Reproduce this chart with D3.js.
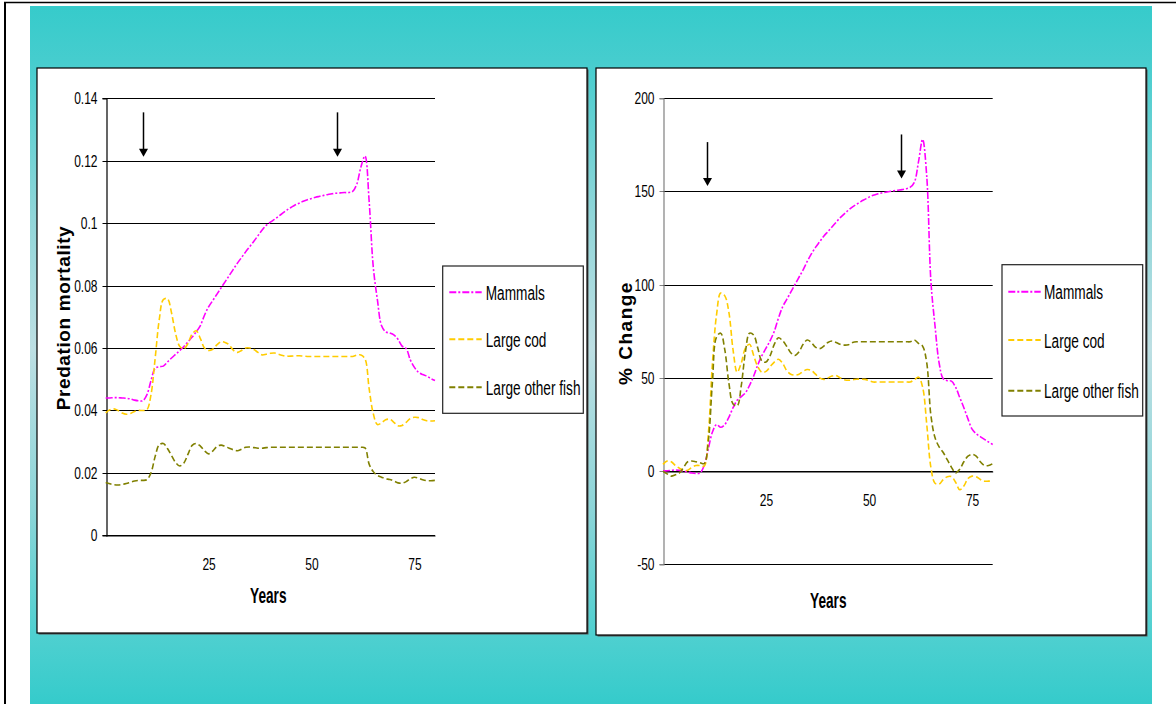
<!DOCTYPE html>
<html><head><meta charset="utf-8">
<script src="https://cdn.jsdelivr.net/npm/d3@7"></script>
<style>body{margin:0;background:#fff;} svg{display:block;}</style>
</head><body><svg id="c" width="1176" height="704"></svg>
<script>
// ---------- DATA ----------
const years = d3.range(0, 81);
const seriesNames = ["Mammals", "Large cod", "Large other fish"];
const yTicks1 = [0, 0.02, 0.04, 0.06, 0.08, 0.1, 0.12, 0.14];
const yTickLabels1 = ["0", "0.02", "0.04", "0.06", "0.08", "0.1", "0.12", "0.14"];
const yTicks2 = [-50, 0, 50, 100, 150, 200];
const yTickLabels2 = ["-50", "0", "50", "100", "150", "200"];
const xTicks = [25, 50, 75];
const xTickLabels = ["25", "50", "75"];

// Predation mortality (left chart)
const mammalsMort = [0.0440,0.0440,0.0441,0.0441,0.0440,0.0439,0.0437,0.0433,0.0431,0.0431,
 0.0450,0.0495,0.0535,0.0540,0.0542,0.0555,0.0568,0.0580,0.0592,0.0605,
 0.0620,0.0635,0.0652,0.0672,0.0705,0.0732,0.0752,0.0772,0.0792,0.0812,
 0.0832,0.0852,0.0872,0.0890,0.0908,0.0925,0.0942,0.0960,0.0978,0.0993,
 0.1003,0.1012,0.1022,0.1032,0.1042,0.1050,0.1058,0.1064,0.1070,0.1075,
 0.1079,0.1083,0.1086,0.1089,0.1092,0.1094,0.1096,0.1097,0.1098,0.1098,
 0.1102,0.1125,0.1180,0.1215,0.1070,0.0860,0.0755,0.0672,0.0652,0.0648,
 0.0642,0.0628,0.0606,0.0598,0.0562,0.0538,0.0522,0.0515,0.0510,0.0502,0.0496];
const codMort = [0.0392,0.0402,0.0405,0.0400,0.0392,0.0388,0.0390,0.0397,0.0400,0.0400,
 0.0402,0.0450,0.0565,0.0690,0.0755,0.0758,0.0712,0.0645,0.0605,0.0598,
 0.0615,0.0645,0.0655,0.0630,0.0600,0.0592,0.0596,0.0610,0.0620,0.0618,
 0.0610,0.0593,0.0586,0.0592,0.0600,0.0600,0.0595,0.0586,0.0578,0.0580,
 0.0583,0.0584,0.0580,0.0576,0.0574,0.0574,0.0575,0.0575,0.0574,0.0573,
 0.0573,0.0573,0.0573,0.0573,0.0573,0.0573,0.0573,0.0573,0.0573,0.0573,
 0.0573,0.0577,0.0578,0.0565,0.0470,0.0390,0.0355,0.0360,0.0370,0.0372,
 0.0362,0.0351,0.0352,0.0362,0.0374,0.0378,0.0377,0.0371,0.0367,0.0366,0.0367];
const otherFishMort = [0.0169,0.0165,0.0162,0.0161,0.0163,0.0166,0.0170,0.0174,0.0176,0.0176,
 0.0178,0.0200,0.0252,0.0290,0.0294,0.0278,0.0255,0.0233,0.0222,0.0232,
 0.0260,0.0288,0.0294,0.0286,0.0271,0.0261,0.0270,0.0284,0.0289,0.0285,
 0.0279,0.0274,0.0271,0.0276,0.0282,0.0283,0.0281,0.0279,0.0279,0.0281,
 0.0282,0.0282,0.0282,0.0282,0.0282,0.0282,0.0282,0.0282,0.0282,0.0282,
 0.0282,0.0282,0.0282,0.0282,0.0282,0.0282,0.0282,0.0282,0.0282,0.0282,
 0.0282,0.0282,0.0282,0.0280,0.0228,0.0204,0.0192,0.0186,0.0181,0.0179,
 0.0174,0.0168,0.0167,0.0172,0.0181,0.0186,0.0183,0.0178,0.0175,0.0175,0.0176];

// % Change (right chart)
const mammalsChange = [0,0.2,0.4,0.6,0.4,0,-0.5,-1,-1.2,-1,
 3,12,21,25,23.5,25,29,34,38,40,
 42,46,51,57,62,66,70,75,82,88,
 92,96,100,104,108,112.5,116.5,120,123,126,
 128.5,131,133.5,136,138,140,141.8,143.2,144.6,145.8,
 147,148,148.7,149.2,149.6,150,150.4,150.7,151,151.5,
 152.3,155,166,178,158,102,78,58,49.5,48.5,
 48.3,45,39.5,34,28,22.5,20,18.5,17,15.6,14.3];
const codChange = [3.6,5.4,5,3,1.5,0.4,0.5,2,3,3,
 2.7,20,58,84,95.5,94,85,65,53,58,
 66,68,62,56,53,53.5,56,58.5,60,58,
 54,52,51.5,52,53.5,54.5,54,52,50,49.2,
 50,51,51.3,50,49,48.7,49,49.3,49.3,49.2,
 48.5,47.8,47.8,47.8,47.8,47.8,47.8,47.8,47.8,47.8,
 47.8,49,50.4,45,25,2,-6.5,-7,-4.5,-3,
 -3,-6,-10,-8,-4,-2.7,-3,-4.5,-5.4,-5.4,-5.4];
const otherFishChange = [0,-1.5,-2.7,-2,-1,2,5,5.4,5,4.5,
 4,16,48,72,74,65,47,36,35,46,
 64,74,73,66,59,58.5,62,68,71.5,70,
 67,63.5,62,64,68,70.3,69,66.5,65.7,67,
 69,69.8,69,68,67.6,67.8,69,69.4,69.4,69.4,
 69.4,69.4,69.4,69.4,69.4,69.4,69.4,69.4,69.4,69.4,
 69.4,70.3,68.5,67,58,30,18,13,10,6,
 2,-1,1,5,8,9,8,5,3,3,4];

// arrows (year, from value, to value)
const arrowYears1 = [9.1, 56.1];
const arrowFrom1 = [0.1355, 0.1355];
const arrowTo1 = [0.1213, 0.1213];
const arrowYears2 = [10.6, 57.7];
const arrowFrom2 = [176.5, 180.6];
const arrowTo2 = [152.9, 157];

// ---------- DRAW ----------
const svg = d3.select('#c');
const defs = svg.append('defs');
const grad = defs.append('linearGradient').attr('id', 'bg')
  .attr('gradientUnits', 'userSpaceOnUse').attr('x1', 0).attr('y1', 6).attr('x2', 0).attr('y2', 704);
[[0, '#36cbcb'], [0.08, '#46cdce'], [0.3, '#90d6d9'], [0.49, '#bddfe3'], [0.72, '#8cd5d8'], [0.9, '#4fd0d0'], [1, '#35cbcb']]
  .forEach(s => grad.append('stop').attr('offset', s[0]).attr('stop-color', s[1]));

svg.append('rect').attr('x', 30).attr('y', 6).attr('width', 1122).attr('height', 698).attr('fill', 'url(#bg)');
svg.append('line').attr('x1', 4).attr('x2', 1176).attr('y1', 2.5).attr('y2', 2.5).attr('stroke', '#000').attr('stroke-width', 1.5);
svg.append('line').attr('x1', 5).attr('x2', 5).attr('y1', 2).attr('y2', 704).attr('stroke', '#000').attr('stroke-width', 2);

const colors = ['#ff00ff', '#ffcc00', '#808000'];
const dashes = ['7,2,2,2', '6,3', '6,3'];
const FONT = 'Liberation Sans, Arial, Helvetica, sans-serif';

function drawChart(cfg) {
  const g = svg.append('g');
  const [px, py, pw, ph] = cfg.panel;
  g.append('rect').attr('x', px + 1.5).attr('y', py + 1.5).attr('width', pw).attr('height', ph).attr('fill', '#555');
  g.append('rect').attr('x', px).attr('y', py).attr('width', pw).attr('height', ph)
    .attr('fill', '#fff').attr('stroke', '#000').attr('stroke-width', 1.2);

  const x = d3.scaleLinear().domain([0, 80]).range(cfg.xRange);
  const y = d3.scaleLinear().domain(cfg.yDomain).range(cfg.yRange);

  // gridlines
  g.append('g').selectAll('line').data(cfg.yTicks).join('line')
    .attr('x1', cfg.xRange[0]).attr('x2', cfg.xRange[1])
    .attr('y1', d => Math.round(y(d)) + 0.5).attr('y2', d => Math.round(y(d)) + 0.5)
    .attr('stroke', '#000').attr('stroke-width', 1);

  // y axis
  const ya = g.append('g').attr('transform', `translate(${Math.round(cfg.xRange[0]) + 0.5},0)`)
    .call(d3.axisLeft(y).tickValues(cfg.yTicks).tickSize(4).tickFormat((d, i) => cfg.yLabels[i]));
  ya.select('.domain').attr('stroke', cfg.axisColor).attr('stroke-width', 1.2);
  ya.selectAll('.tick line').attr('stroke', cfg.axisColor);
  ya.selectAll('.tick').attr('transform', d => `translate(0,${Math.round(y(d)) + 0.5})`);
  ya.selectAll('.tick text').attr('x', null).attr('dy', null)
    .attr('transform', 'translate(-9,5.6) scale(0.75,1)')
    .attr('font-family', FONT).attr('font-size', 16).attr('fill', '#000').attr('text-anchor', 'end');

  // x axis
  const xa = g.append('g').attr('transform', `translate(0,${Math.round(y(cfg.xAxisAt)) + 0.5})`)
    .call(d3.axisBottom(x).tickValues(xTicks).tickSize(0).tickFormat((d, i) => xTickLabels[i]));
  xa.select('.domain').attr('stroke', '#000').attr('stroke-width', 1.2);
  xa.selectAll('.tick text').attr('y', null).attr('dy', null)
    .attr('transform', 'translate(0,34) scale(0.75,1)')
    .attr('font-family', FONT).attr('font-size', 16).attr('fill', '#000').attr('text-anchor', 'middle');

  // series
  cfg.series.forEach((vals, si) => {
    const line = d3.line().x((d, i) => x(years[i])).y(d => y(d)).curve(d3.curveCatmullRom.alpha(0.5));
    g.append('path').datum(vals).attr('d', line).attr('fill', 'none')
      .attr('stroke', colors[si]).attr('stroke-width', 1.6).attr('stroke-dasharray', dashes[si]);
  });

  // arrows
  cfg.arrowYears.forEach((yr, i) => {
    const ax = Math.round(x(yr)) + 0.5, y0 = y(cfg.arrowFrom[i]), y1 = y(cfg.arrowTo[i]);
    g.append('line').attr('x1', ax).attr('x2', ax).attr('y1', y0).attr('y2', y1 - 6)
      .attr('stroke', '#000').attr('stroke-width', 1.5);
    g.append('path').attr('d', `M${ax - 4.5},${y1 - 8}L${ax + 4.5},${y1 - 8}L${ax},${y1}Z`).attr('fill', '#000');
  });

  // axis titles
  g.append('text').text('Years')
    .attr('transform', `translate(${cfg.yearsPos[0]},${cfg.yearsPos[1]}) scale(0.62,1)`)
    .attr('text-anchor', 'middle').attr('font-family', FONT).attr('font-weight', 'bold').attr('font-size', 22);
  g.append('text').text(cfg.title)
    .attr('transform', `translate(${cfg.titlePos[0]},${cfg.titlePos[1]}) rotate(-90)`)
    .attr('text-anchor', 'middle').attr('font-family', FONT).attr('font-weight', 'bold')
    .attr('font-size', cfg.titleSize).attr('letter-spacing', cfg.titleSpacing);

  // legend
  const L = cfg.legend;
  g.append('rect').attr('x', L.box[0]).attr('y', L.box[1]).attr('width', L.box[2]).attr('height', L.box[3])
    .attr('fill', '#fff').attr('stroke', '#222').attr('stroke-width', 1.2);
  seriesNames.forEach((nm, i) => {
    g.append('line').attr('x1', L.sample[0]).attr('x2', L.sample[1]).attr('y1', L.rows[i]).attr('y2', L.rows[i])
      .attr('stroke', colors[i]).attr('stroke-width', 2).attr('stroke-dasharray', dashes[i]);
    g.append('text').text(nm)
      .attr('transform', `translate(${L.textX},${L.rows[i] + 7.5}) scale(0.65,1)`)
      .attr('font-family', FONT).attr('font-size', 21).attr('fill', '#000');
  });
}

drawChart({
  panel: [37, 68, 550, 565],
  xRange: [105.7, 435], yRange: [535.3, 98.3], yDomain: [0, 0.14],
  yTicks: yTicks1, yLabels: yTickLabels1, xAxisAt: 0, axisColor: '#000',
  series: [mammalsMort, codMort, otherFishMort],
  arrowYears: arrowYears1, arrowFrom: arrowFrom1, arrowTo: arrowTo1,
  yearsPos: [268.3, 602.7], title: 'Predation mortality', titlePos: [70, 318], titleSize: 19, titleSpacing: 0.6,
  legend: { box: [442.7, 266, 140.6, 147.3], rows: [292.3, 339.3, 387.3], sample: [449.3, 481.7], textX: 485.7 }
});
drawChart({
  panel: [596, 68, 550, 567],
  xRange: [663, 992.7], yRange: [564.3, 98.3], yDomain: [-50, 200],
  yTicks: yTicks2, yLabels: yTickLabels2, xAxisAt: 0, axisColor: '#808080',
  series: [mammalsChange, codChange, otherFishChange],
  arrowYears: arrowYears2, arrowFrom: arrowFrom2, arrowTo: arrowTo2,
  yearsPos: [828.3, 607.7], title: '% Change', titlePos: [631.7, 333], titleSize: 19, titleSpacing: 1.5,
  legend: { box: [1002, 264.7, 140.7, 151.3], rows: [291.7, 340, 390.7], sample: [1008.3, 1040.7], textX: 1044 }
});
</script></body></html>
